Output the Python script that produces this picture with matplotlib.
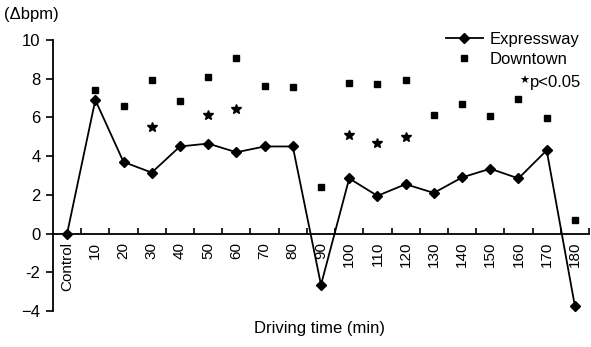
import numpy as np
import matplotlib
matplotlib.use("Agg")
from matplotlib import pyplot as plt
from matplotlib.lines import Line2D

plt.rcParams['font.family'] = ['Liberation Sans', 'DejaVu Sans']
plt.rcParams['axes.unicode_minus'] = False

categories = ['Control', '10', '20', '30', '40', '50', '60', '70', '80', '90',
              '100', '110', '120', '130', '140', '150', '160', '170', '180']
expressway = [0.0, 6.9, 3.7, 3.15, 4.5, 4.65, 4.2, 4.5, 4.5, -2.65,
              2.85, 1.95, 2.55, 2.1, 2.9, 3.35, 2.85, 4.3, -3.75]
downtown = [np.nan, 7.4, 6.6, 7.95, 6.85, 8.1, 9.05, 7.6, 7.55, 2.4,
            7.8, 7.75, 7.95, 6.1, 6.7, 6.05, 6.95, 5.95, 0.7]
star_cats = [3, 5, 6, 10, 11, 12]
star_vals = [5.5, 6.15, 6.45, 5.1, 4.7, 5.0]
yticks = [-4, -2, 0, 2, 4, 6, 8, 10]
ytick_labels = ['\u22124', '-2', '0', '2', '4', '6', '8', '10']

fig = plt.figure(figsize=(5.91, 3.47), dpi=100)
ax = fig.add_axes([53 / 591, 36 / 347, 536 / 591, 271 / 347])

x = np.arange(len(categories))
ax.plot(x, expressway, color='black', lw=1.3, marker='D', ms=5.5, zorder=3)
ax.plot(x, downtown, ls='none', marker='s', color='black', ms=5, zorder=3)
ax.plot(star_cats, star_vals, ls='none', marker='*', color='black', ms=7, zorder=3)

ax.set_xlim(-0.5, 18.5)
ax.set_ylim(-4, 10)
ax.spines['top'].set_visible(False)
ax.spines['right'].set_visible(False)
ax.spines['bottom'].set_position(('data', 0))
ax.spines['bottom'].set_linewidth(1.3)
ax.spines['left'].set_linewidth(1.3)

ax.set_xticks(x)
ax.set_xticklabels(categories, rotation=90, fontsize=11)
ax.tick_params(axis='x', which='major', length=0, pad=6)
ax.set_xticks(np.arange(0.5, 18.6, 1), minor=True)
ax.tick_params(axis='x', which='minor', direction='in', length=4, width=1.2)

ax.set_yticks(yticks)
ax.set_yticklabels(ytick_labels, fontsize=12)
ax.tick_params(axis='y', direction='out', length=5, width=1.2, pad=4)

handles = [Line2D([], [], color='black', lw=1.3, marker='D', ms=5.5),
           Line2D([], [], ls='none', color='black', marker='s', ms=5)]
ax.legend(handles, ['Expressway', 'Downtown'], loc='upper right',
          bbox_to_anchor=(1.01, 1.085), frameon=False, fontsize=12,
          handlelength=2.2, handletextpad=0.4, labelspacing=0.3)
ax.text(0.985, 0.845, 'p<0.05', transform=ax.transAxes, ha='right',
        va='center', fontsize=12)
ax.text(0.888, 0.85, '\u2605', transform=ax.transAxes, ha='right',
        va='center', fontsize=8)

fig.text(320 / 591, 1 - 328 / 347, 'Driving time (min)', ha='center',
         va='center', fontsize=12)
fig.text(4 / 591, 1 - 15 / 347, '(\u0394bpm)', ha='left', va='center',
         fontsize=12)

fig.savefig('out.png', dpi=100)
